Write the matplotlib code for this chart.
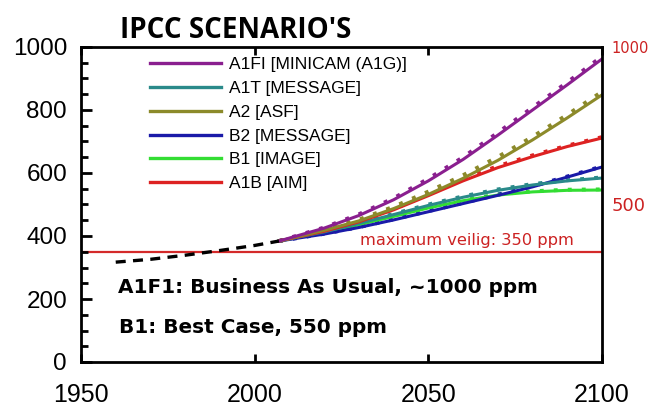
import matplotlib
matplotlib.use("Agg")
import matplotlib.pyplot as plt
from matplotlib.ticker import MultipleLocator

# ---- data ----
hist_years = [1960, 1970, 1980, 1990, 2000, 2007]
hist_ppm = [317, 326, 339, 354, 370, 384]

scen_years = [2007, 2020, 2030, 2040, 2050, 2060, 2070, 2080, 2090, 2100]
scen_names = ["A1FI [MINICAM (A1G)]", "A1T [MESSAGE]", "A2 [ASF]",
              "B2 [MESSAGE]", "B1 [IMAGE]", "A1B [AIM]"]
a1fi = [384, 425, 465, 515, 575, 643, 720, 800, 880, 962]
a1t = [384, 413, 440, 468, 497, 523, 545, 562, 575, 584]
a2 = [384, 418, 448, 487, 532, 583, 640, 705, 775, 848]
b2 = [384, 406, 427, 451, 477, 503, 529, 556, 587, 619]
b1 = [384, 411, 436, 462, 489, 512, 530, 540, 545, 546]
a1b = [384, 415, 445, 483, 528, 575, 617, 652, 684, 711]
# second (dashed) model runs
a1fi_d = [384, 427, 469, 520, 582, 650, 728, 808, 888, 970]
a1t_d = [384, 414, 442, 470, 500, 526, 548, 565, 577, 586]
a2_d = [384, 420, 452, 493, 541, 593, 651, 715, 785, 858]
b2_d = [384, 407, 428, 453, 479, 505, 531, 558, 589, 621]
b1_d = [384, 412, 438, 464, 491, 514, 532, 542, 547, 548]
a1b_d = [384, 416, 447, 486, 532, 580, 622, 656, 687, 714]

safe_level = 350
x_ticks = [1950, 2000, 2050, 2100]
y_ticks = [0, 200, 400, 600, 800, 1000]
right_ticks = [500, 1000]

colors = ["#8a1f8f", "#2a8a8a", "#8c8a2a", "#1a1aa8", "#33dd33", "#dd2222"]
solid = [a1fi, a1t, a2, b2, b1, a1b]
dashed = [a1fi_d, a1t_d, a2_d, b2_d, b1_d, a1b_d]

fig = plt.figure(figsize=(6.5, 4.08), dpi=100)
ax = fig.add_axes([81/650, 1-362/408, 521/650, 315/408])
ax.set_xlim(1950, 2100)
ax.set_ylim(0, 1000)

ax.axhline(safe_level, color="#d42a2a", lw=1.6, zorder=1)
ax.plot(hist_years, hist_ppm, color="black", lw=2.4, ls=(0, (3, 2.2)), zorder=3)

handles = []
order = [4, 3, 1, 5, 2, 0]
for i in order:
    ax.plot(scen_years, dashed[i], color=colors[i], lw=2.8, ls=(0, (1.0, 2.6)), zorder=2)
for i in order:
    ax.plot(scen_years, solid[i], color=colors[i], lw=2.2, zorder=2)
for i in range(6):
    h, = ax.plot([], [], color=colors[i], lw=2.4)
    handles.append(h)

leg = ax.legend(handles, scen_names, loc="upper left",
                bbox_to_anchor=((150-81)/521, (362-57)/315),
                frameon=False, borderpad=0, borderaxespad=0,
                handlelength=4.1, handletextpad=0.45, labelspacing=0.5,
                prop={"family": "Liberation Sans", "size": 12.5})

ax.text(2030.3, 387, "maximum veilig: 350 ppm", color="#cc2222",
        fontsize=11.7, family="DejaVu Sans", va="center", ha="left")
ax.text(1960.6, 238, "A1F1: Business As Usual, ~1000 ppm", fontsize=14.4,
        weight="bold", family="DejaVu Sans", va="center", ha="left")
ax.text(1960.9, 108, "B1: Best Case, 550 ppm", fontsize=14.4,
        weight="bold", family="DejaVu Sans", va="center", ha="left")

for s in ax.spines.values():
    s.set_linewidth(2)

ax.set_xticks(x_ticks)
ax.set_xticklabels([str(v) for v in x_ticks], family="Liberation Sans", fontsize=18)
ax.set_yticks(y_ticks)
ax.set_yticklabels([str(v) for v in y_ticks], family="Liberation Sans", fontsize=17.5)
ax.yaxis.set_minor_locator(MultipleLocator(50))
ax.tick_params(axis="x", which="major", direction="in", length=6, width=2,
               top=True, pad=15)
ax.tick_params(axis="y", which="major", direction="in", length=8, width=2,
               right=True, pad=10)
ax.tick_params(axis="y", which="minor", direction="in", length=5, width=2,
               right=True)

tw = ax.twinx()
tw.set_ylim(0, 1000)
tw.set_yticks(right_ticks)
tw.set_yticklabels([str(v) for v in right_ticks], family="DejaVu Sans", color="#cc2222")
tw.get_yticklabels()[0].set_fontsize(13)
tw.get_yticklabels()[1].set_fontsize(10.5)
tw.tick_params(axis="y", length=0, pad=7)
for s in tw.spines.values():
    s.set_visible(False)

fig.text(236/650, 1-30/408, "IPCC SCENARIO'S", family="Open Sans", weight="bold",
         fontsize=20, ha="center", va="center")

fig.savefig("out.png", dpi=100)
